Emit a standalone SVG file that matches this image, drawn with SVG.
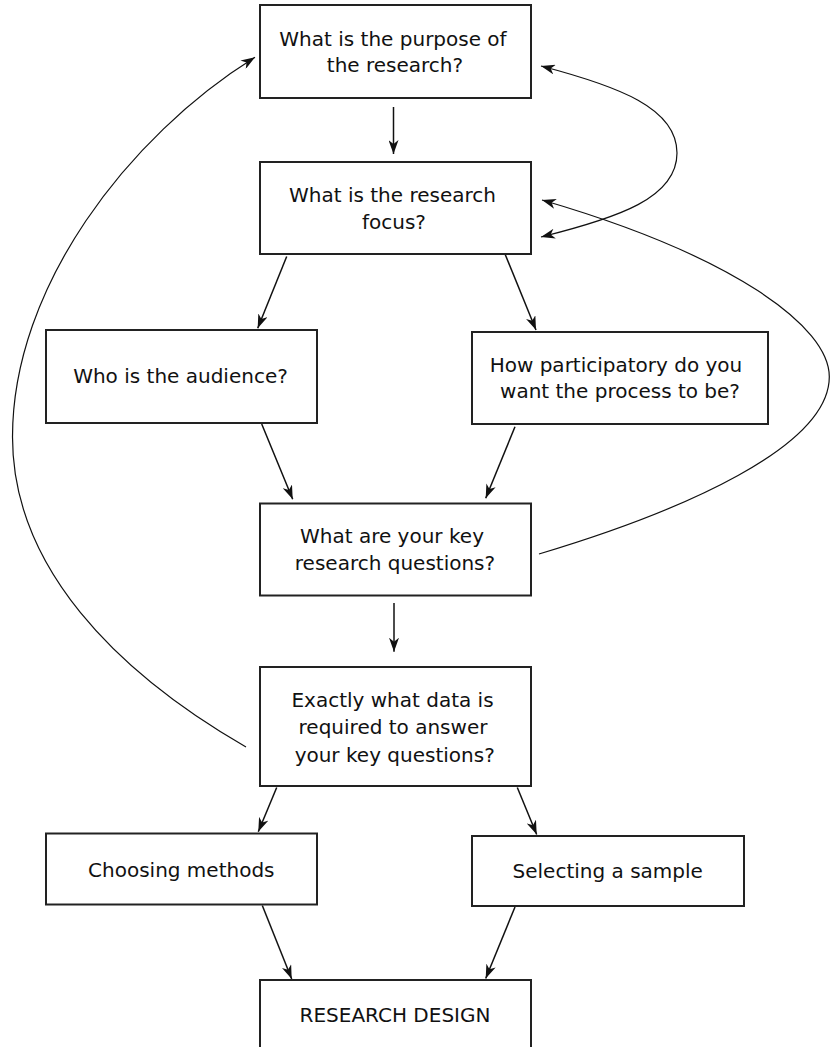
<svg xmlns="http://www.w3.org/2000/svg" width="832" height="1047" viewBox="0 0 832 1047">
  <defs>
    <marker id="ah" viewBox="0 0 14 10" refX="14" refY="5" markerWidth="14" markerHeight="10" markerUnits="userSpaceOnUse" orient="auto-start-reverse">
      <path d="M0,0 L14,5 L0,10 L4,5 Z" fill="#111"/>
    </marker>
    <style>
      .box { fill: #fff; stroke: #222; stroke-width: 2; }
      .lbl { font-family: "DejaVu Sans", "Liberation Sans", sans-serif; font-size: 20px; fill: #111; text-anchor: middle; }
      .arrow { fill: none; stroke: #111; stroke-width: 1.5; marker-end: url(#ah); }
      .loop { fill: none; stroke: #111; stroke-width: 1.2; }
    </style>
  </defs>
  <rect width="832" height="1047" fill="#fff"/>

  <g id="connectors">
    <line class="arrow" x1="393.5" y1="107" x2="393.5" y2="154"/>
    <line class="arrow" x1="286.7" y1="256.5" x2="257.7" y2="328.3"/>
    <line class="arrow" x1="505" y1="254" x2="536" y2="330"/>
    <line class="arrow" x1="261.7" y1="424" x2="292.7" y2="499.3"/>
    <line class="arrow" x1="515" y1="426.7" x2="485.7" y2="498.3"/>
    <line class="arrow" x1="394" y1="603" x2="394" y2="651.7"/>
    <line class="arrow" x1="276.7" y1="787.5" x2="258.3" y2="831.7"/>
    <line class="arrow" x1="517.3" y1="787.5" x2="536.7" y2="834.5"/>
    <line class="arrow" x1="262.3" y1="905.5" x2="291.7" y2="979"/>
    <line class="arrow" x1="515" y1="907" x2="485.7" y2="978.5"/>
    <!-- feedback loop: data requirements back to purpose -->
    <path class="loop" marker-end="url(#ah)" d="M246,747 C116,672 12.5,567 12.5,437 C12.5,287 127.5,136.8 255,57.3"/>
    <!-- feedback loop: key questions back to focus -->
    <path class="loop" marker-end="url(#ah)" d="M539,554 C682.7,511 829.3,446.7 829.3,376.7 C829.3,326.7 734,256 542,200"/>
    <!-- two-way link between purpose and focus -->
    <path class="loop" marker-start="url(#ah)" marker-end="url(#ah)" d="M541,66 C618.4,86.3 677,108 677,153 C677,198 618.4,217.7 541,237"/>
  </g>

  <g id="purpose">
    <rect class="box" x="260" y="5" width="271" height="93"/>
    <text class="lbl" x="393" y="45.7">What is the purpose of</text>
    <text class="lbl" x="395" y="71.7">the research?</text>
  </g>
  <g id="focus">
    <rect class="box" x="260" y="162" width="271" height="92"/>
    <text class="lbl" x="392.5" y="201.7">What is the research</text>
    <text class="lbl" x="394" y="228.5">focus?</text>
  </g>
  <g id="audience">
    <rect class="box" x="46" y="330" width="271" height="93"/>
    <text class="lbl" x="180.5" y="383.3">Who is the audience?</text>
  </g>
  <g id="participation">
    <rect class="box" x="472" y="332" width="296" height="92"/>
    <text class="lbl" x="616" y="371.7">How participatory do you</text>
    <text class="lbl" x="620" y="398.3">want the process to be?</text>
  </g>
  <g id="questions">
    <rect class="box" x="260" y="503.5" width="271" height="92"/>
    <text class="lbl" x="392" y="543">What are your key</text>
    <text class="lbl" x="395" y="570">research questions?</text>
  </g>
  <g id="data">
    <rect class="box" x="260" y="667" width="271" height="119"/>
    <text class="lbl" x="392.5" y="706.7">Exactly what data is</text>
    <text class="lbl" x="393" y="734">required to answer</text>
    <text class="lbl" x="394.7" y="761.7">your key questions?</text>
  </g>
  <g id="methods">
    <rect class="box" x="46" y="833.5" width="271" height="71"/>
    <text class="lbl" x="181.3" y="877.3">Choosing methods</text>
  </g>
  <g id="sample">
    <rect class="box" x="472" y="836" width="272" height="70"/>
    <text class="lbl" x="607.7" y="878">Selecting a sample</text>
  </g>
  <g id="design">
    <rect class="box" x="260" y="980" width="271" height="90"/>
    <text class="lbl" x="395" y="1022.3">RESEARCH DESIGN</text>
  </g>
</svg>
